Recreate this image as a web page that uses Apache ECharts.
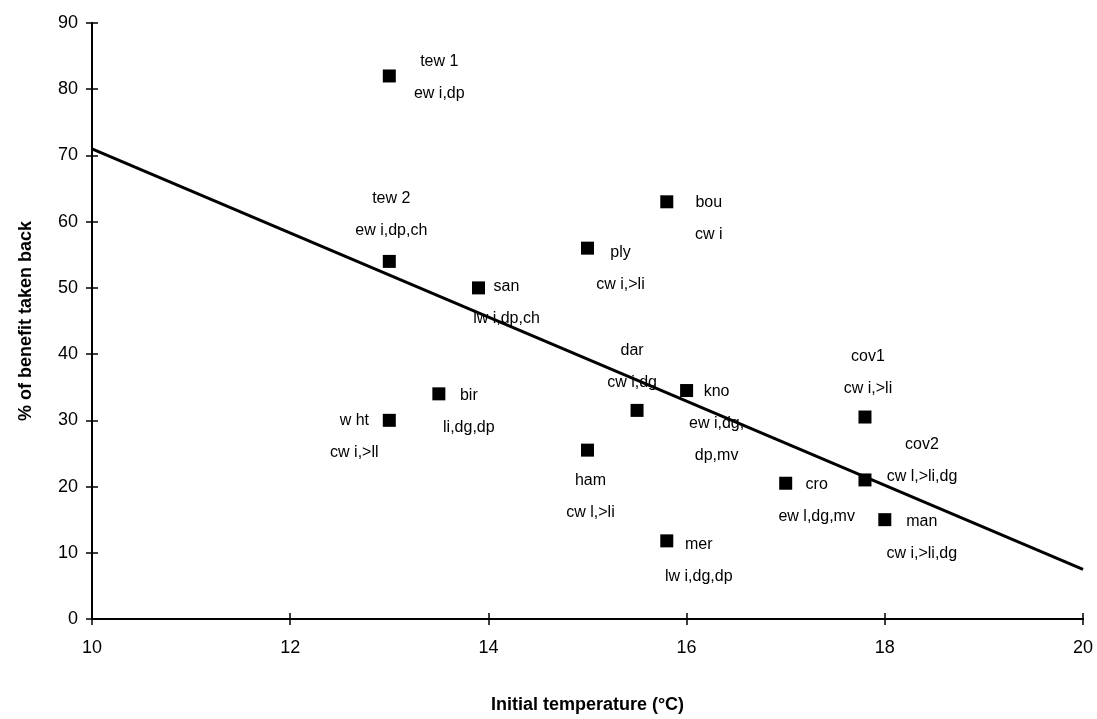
<!DOCTYPE html>
<html>
<head>
<meta charset="utf-8">
<script src="https://cdn.jsdelivr.net/npm/echarts@6/dist/echarts.min.js"></script>
<style>
html,body{margin:0;padding:0;background:#fff;}
#chart{width:1097px;height:719px;}
</style>
</head>
<body>
<div id="chart"></div>
<script>
// ---- data ----
var siteNames = ['tew 1','tew 2','san','w ht','bir','ply','bou','dar','kno','ham','mer','cro','cov1','cov2','man'];
var siteCodes = ['ew i,dp','ew i,dp,ch','lw i,dp,ch','cw i,>ll','li,dg,dp','cw i,>li','cw i','cw i,dg','ew i,dg,\ndp,mv','cw l,>li','lw i,dg,dp','ew l,dg,mv','cw i,>li','cw l,>li,dg','cw i,>li,dg'];
var initialTemp = [13.0, 13.0, 13.9, 13.0, 13.5, 15.0, 15.8, 15.5, 16.0, 15.0, 15.8, 17.0, 17.8, 17.8, 18.0];
var benefitTakenBack = [82, 54, 50, 30, 34, 56, 63, 31.5, 34.5, 25.5, 11.8, 20.5, 30.5, 21, 15];
var trendX = [10, 20];
var trendY = [71, 7.5];

// ---- layout (label block centre relative to each marker centre, px) ----
var labelOffsets = [[50,2],[2,-47],[28,15],[-35,16],[30,18],[33,20],[42,17],[-5,-44],[30,33],[3,46],[32,20],[31,17],[3,-44],[57,-19],[37,18]];

var FONT = '"Liberation Sans", Arial, sans-serif';
var SYM = 13;

var pts = initialTemp.map(function(x, i){
  var o = labelOffsets[i];
  return {
    value: [x, benefitTakenBack[i]],
    label: {
      show: true,
      position: [SYM / 2 + o[0], SYM / 2 + o[1]],
      align: 'center',
      verticalAlign: 'middle',
      formatter: siteNames[i] + '\n' + siteCodes[i]
    }
  };
});

var chart = echarts.init(document.getElementById('chart'), null, {renderer:'canvas'});
var tickStyle = {color:'#000', width:1.5};
var axisLineStyle = {show:true, onZero:false, lineStyle:{color:'#000', width:2}};
chart.setOption({
  backgroundColor: '#fff',
  animation: false,
  grid: {left: 92, right: 14, top: 23, bottom: 99, containLabel: false},
  xAxis: [
    {
      type: 'value', min: 10, max: 20, interval: 2, position: 'bottom',
      splitLine: {show:false}, axisLine: axisLineStyle,
      name: 'Initial temperature (°C)', nameLocation: 'middle', nameGap: 77,
      nameTextStyle: {fontFamily: FONT, fontWeight: 'bold', fontSize: 18, color: '#000'},
      axisLabel: {margin: 20, fontFamily: FONT, fontSize: 18, color: '#000'},
      axisTick: {show:true, length:6, inside:false, lineStyle: tickStyle}
    },
    {
      type: 'value', min: 10, max: 20, interval: 2, position: 'bottom',
      splitLine: {show:false}, axisLine: axisLineStyle,
      axisLabel: {show:false},
      axisTick: {show:true, length:6, inside:true, lineStyle: tickStyle}
    }
  ],
  yAxis: [
    {
      type: 'value', min: 0, max: 90, interval: 10, position: 'left',
      splitLine: {show:false}, axisLine: axisLineStyle,
      name: '% of benefit taken back', nameLocation: 'middle', nameGap: 57, nameRotate: 90,
      nameTextStyle: {fontFamily: FONT, fontWeight: 'bold', fontSize: 18, color: '#000'},
      axisLabel: {margin: 14, fontFamily: FONT, fontSize: 18, color: '#000'},
      axisTick: {show:true, length:6, inside:false, lineStyle: tickStyle}
    },
    {
      type: 'value', min: 0, max: 90, interval: 10, position: 'left',
      splitLine: {show:false}, axisLine: axisLineStyle,
      axisLabel: {show:false},
      axisTick: {show:true, length:6, inside:true, lineStyle: tickStyle}
    }
  ],
  series: [
    {
      type: 'line',
      data: trendX.map(function(x, i){ return [x, trendY[i]]; }),
      showSymbol: false,
      symbol: 'none',
      lineStyle: {color:'#000', width: 3},
      silent: true,
      z: 2
    },
    {
      type: 'scatter',
      data: pts,
      symbol: 'rect',
      symbolSize: SYM,
      itemStyle: {color: '#000', opacity: 1},
      label: {
        show: true,
        fontFamily: FONT,
        fontSize: 16,
        lineHeight: 32,
        color: '#000'
      },
      labelLayout: {hideOverlap: false},
      emphasis: {disabled: true},
      z: 3
    }
  ]
});
</script>
</body>
</html>
